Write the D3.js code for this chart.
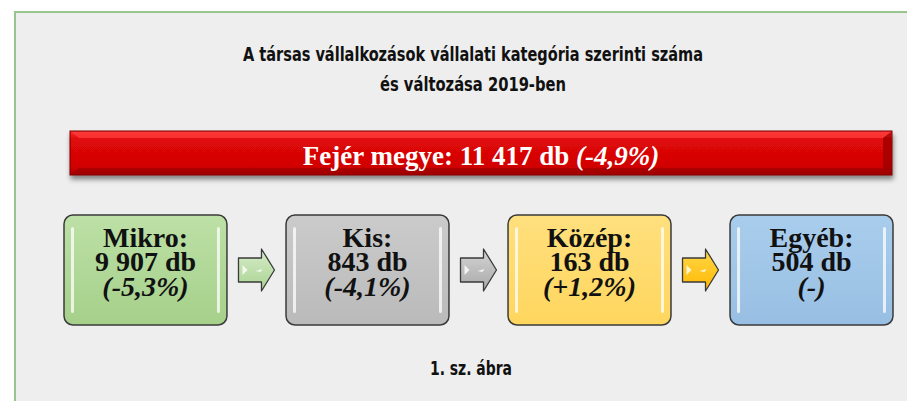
<!DOCTYPE html>
<html>
<head>
<meta charset="utf-8">
<script src="https://cdn.jsdelivr.net/npm/d3@7"></script>
<style>
  html, body { margin: 0; padding: 0; background: #fff; }
  svg { display: block; }
</style>
</head>
<body>
<svg id="chart" width="907" height="401"></svg>
<script>
// data
var titleLines = ["A társas vállalkozások vállalati kategória szerinti száma", "és változása 2019-ben"];
var totalLabel = "Fejér megye";
var totalCount = 11417;
var totalChange = -4.9;
var categories = ["Mikro", "Kis", "Közép", "Egyéb"];
var counts = [9907, 843, 163, 504];
var changes = [-5.3, -4.1, 1.2, null];
var caption = "1. sz. ábra";

var width = 907, height = 401;
var svg = d3.select("#chart");

// hungarian number formats
var hu = d3.formatLocale({decimal: ",", thousands: " ", grouping: [3], currency: ["", " Ft"], minus: "-"});
var fmtCount = hu.format(",d");
var fmtPct = hu.format("+.1f");
function pctText(v) {
  if (v === null) return "(-)";
  return "(" + fmtPct(v) + "%)";
}

var defs = svg.append("defs");

// drop shadow
var shadow = defs.append("filter").attr("id", "shadow")
  .attr("x", "-5%").attr("y", "-20%").attr("width", "110%").attr("height", "160%");
shadow.append("feGaussianBlur").attr("in", "SourceAlpha").attr("stdDeviation", 2.5);
shadow.append("feOffset").attr("dx", 1).attr("dy", 4).attr("result", "off");
shadow.append("feComponentTransfer").append("feFuncA").attr("type", "linear").attr("slope", 0.45);
var merge = shadow.append("feMerge");
merge.append("feMergeNode");
merge.append("feMergeNode").attr("in", "SourceGraphic");

function vgrad(id, stops) {
  var g = defs.append("linearGradient").attr("id", id)
    .attr("x1", 0).attr("y1", 0).attr("x2", 0).attr("y2", 1);
  stops.forEach(function(s) {
    g.append("stop").attr("offset", s[0]).attr("stop-color", s[1]);
  });
}
vgrad("red", [[0, "#ff2a2a"], [0.18, "#e00808"], [0.8, "#d20404"], [1, "#a80000"]]);
var boxColors = [
  ["#bde0a6", "#a5d08a"],
  ["#cbcbcb", "#bababa"],
  ["#ffe07e", "#ffd65e"],
  ["#a9cdec", "#98bfe3"]
];
var arrowColors = [
  ["#d6ecc8", "#a9d392"],
  ["#d4d4d4", "#a8a8a8"],
  ["#ffd84a", "#ffb800"]
];
boxColors.forEach(function(c, i) { vgrad("box" + i, [[0, c[0]], [1, c[1]]]); });
arrowColors.forEach(function(c, i) { vgrad("arr" + i, [[0, c[0]], [1, c[1]]]); });

// panel
svg.append("rect")
  .attr("x", 15).attr("y", 12)
  .attr("width", width + 10).attr("height", height + 10)
  .attr("fill", "#edeeed")
  .attr("stroke", "#97c58d")
  .attr("stroke-width", 2);

// title
var condensed = "'DejaVu Sans Condensed', 'Liberation Sans Narrow', 'Roboto Condensed', sans-serif";
svg.append("g").selectAll("text")
  .data(titleLines)
  .enter().append("text")
    .attr("x", 473)
    .attr("y", function(d, i) { return 61 + i * 30; })
    .attr("text-anchor", "middle")
    .attr("font-family", condensed)
    .attr("font-weight", "bold")
    .attr("font-size", 19)
    .attr("fill", "#111")
    .attr("textLength", function(d, i) { return i === 0 ? 460 : 186; })
    .attr("lengthAdjust", "spacingAndGlyphs")
    .text(function(d) { return d; });

// total bar
var barX = d3.scaleLinear().domain([0, 1]).range([70, 892]);
var bar = svg.append("g").attr("filter", "url(#shadow)");
bar.append("rect")
  .attr("x", barX(0)).attr("y", 131)
  .attr("width", barX(1) - barX(0)).attr("height", 44)
  .attr("fill", "url(#red)")
  .attr("stroke", "#7a0000")
  .attr("stroke-width", 1);
// bevel highlight
bar.append("path")
  .attr("d", "M" + (barX(0) + 1) + ",132 L" + (barX(1) - 1) + ",132 L" + (barX(1) - 9) + ",138 L" + (barX(0) + 9) + ",138 Z")
  .attr("fill", "#ff4040").attr("opacity", 0.7);
bar.append("path")
  .attr("d", "M" + (barX(0) + 1) + ",174 L" + (barX(1) - 1) + ",174 L" + (barX(1) - 9) + ",168 L" + (barX(0) + 9) + ",168 Z")
  .attr("fill", "#9a0000").attr("opacity", 0.6);
bar.append("path")
  .attr("d", "M" + (barX(1) - 1) + ",132 L" + (barX(1) - 1) + ",174 L" + (barX(1) - 9) + ",168 L" + (barX(1) - 9) + ",138 Z")
  .attr("fill", "#8a0000").attr("opacity", 0.6);

var totalText = svg.append("text")
  .attr("x", (barX(0) + barX(1)) / 2)
  .attr("y", 165)
  .attr("text-anchor", "middle")
  .attr("font-family", "'Liberation Serif', 'Times New Roman', serif")
  .attr("font-weight", "bold")
  .attr("font-size", 27)
  .attr("fill", "#fff");
totalText.append("tspan").text(totalLabel + ": " + fmtCount(totalCount) + " db ");
totalText.append("tspan").attr("font-style", "italic").text(pctText(totalChange));

// category boxes
var xBand = d3.scaleBand()
  .domain(categories)
  .range([64, 893])
  .paddingInner(0.266)
  .paddingOuter(0);
var boxTop = 215, boxH = 110;

var boxes = svg.selectAll("g.box")
  .data(categories)
  .enter().append("g")
    .attr("class", "box")
    .attr("transform", function(d) { return "translate(" + xBand(d) + "," + boxTop + ")"; });

boxes.append("rect")
  .attr("width", xBand.bandwidth())
  .attr("height", boxH)
  .attr("rx", 9).attr("ry", 9)
  .attr("fill", function(d, i) { return "url(#box" + i + ")"; })
  .attr("stroke", "#3a3a3a")
  .attr("stroke-width", 1.5);

// glossy side strips
[7, xBand.bandwidth() - 10].forEach(function(sx) {
  boxes.append("rect")
    .attr("x", sx).attr("y", 12)
    .attr("width", 3).attr("height", boxH - 24)
    .attr("rx", 1.5)
    .attr("fill", "#ffffff")
    .attr("opacity", 0.75);
});

// box labels: one text block per box, three lines
var serif = "'Liberation Serif', 'Times New Roman', serif";
var boxText = boxes.append("text")
  .attr("text-anchor", "middle")
  .attr("font-family", serif).attr("font-weight", "bold").attr("font-size", 28)
  .attr("fill", "#111");
boxText.append("tspan")
  .attr("x", xBand.bandwidth() / 2).attr("y", 32)
  .text(function(d) { return d + ":"; });
boxText.append("tspan")
  .attr("x", xBand.bandwidth() / 2).attr("y", 56)
  .text(function(d, i) { return fmtCount(counts[i]) + " db"; });
boxText.append("tspan")
  .attr("x", xBand.bandwidth() / 2).attr("y", 81)
  .attr("font-style", "italic")
  .text(function(d, i) { return pctText(changes[i]); });

// arrows between boxes
var aw = 36, ah = 42, shaftH = 24, shaftW = 23;
var arrows = svg.selectAll("g.arrow")
  .data(categories.slice(0, -1))
  .enter().append("g")
    .attr("class", "arrow")
    .attr("transform", function(d, i) {
      var gapMid = (xBand(d) + xBand.bandwidth() + xBand(categories[i + 1])) / 2;
      return "translate(" + (gapMid - aw / 2) + "," + (boxTop + boxH / 2 - ah / 2) + ")";
    });
arrows.append("path")
  .attr("d", "M0," + (ah - shaftH) / 2 + " L" + shaftW + "," + (ah - shaftH) / 2 +
             " L" + shaftW + ",0 L" + aw + "," + ah / 2 + " L" + shaftW + "," + ah +
             " L" + shaftW + "," + (ah + shaftH) / 2 + " L0," + (ah + shaftH) / 2 + " Z")
  .attr("fill", function(d, i) { return "url(#arr" + i + ")"; })
  .attr("stroke", "#3a3a3a")
  .attr("stroke-width", 1.3)
  .attr("stroke-linejoin", "round");
arrows.append("path")
  .attr("d", "M4," + (ah / 2 - 5) + " L9," + (ah / 2) + " L4," + (ah / 2 + 5) + " Z")
  .attr("fill", "#fff").attr("opacity", 0.8);
arrows.append("path")
  .attr("d", "M17," + (ah / 2 + 1) + " L24," + (ah / 2 - 1) + " L22," + (ah / 2 + 2) + " Z")
  .attr("fill", "#fff").attr("opacity", 0.8);

// caption
svg.append("text")
  .attr("x", 471).attr("y", 375)
  .attr("text-anchor", "middle")
  .attr("font-family", condensed)
  .attr("font-weight", "bold")
  .attr("font-size", 19)
  .attr("fill", "#111")
  .attr("textLength", 82)
  .attr("lengthAdjust", "spacingAndGlyphs")
  .text(caption);
</script>
</body>
</html>
